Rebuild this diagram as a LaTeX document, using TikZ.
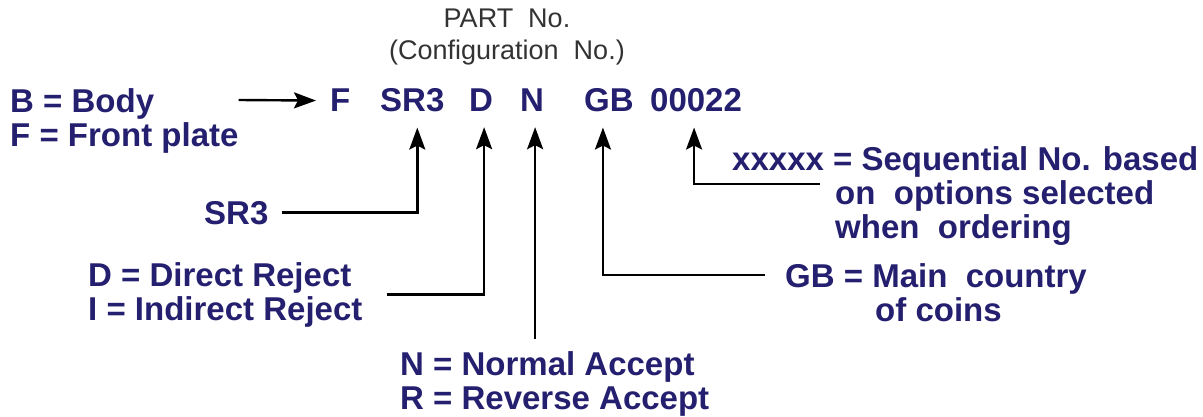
\documentclass[tikz,border=0pt]{standalone}
\usepackage{fontspec}
\setmainfont{Liberation Sans}
\usepackage{tikz}
\usetikzlibrary{arrows.meta,positioning,calc}
\usepackage{xcolor}
\definecolor{codenavy}{HTML}{241F6E}
\definecolor{headgrey}{HTML}{333333}

\begin{document}
\begin{tikzpicture}[x=1pt,y=-1pt,>={Stealth[length=22pt,width=16pt,inset=4pt]}]
  \tikzset{
    code/.style={inner sep=0pt,text=codenavy,font=\fontsize{33}{34}\selectfont\bfseries},
    key/.style={code,align=left,anchor=north west},
    conn/.style={line width=2.4pt,black},
  }
  \useasboundingbox (0,0) rectangle (1203,417);
  % heading
  \node[inner sep=0pt,text=headgrey,font=\fontsize{27}{32}\selectfont,align=center] (head) at (507,37) {PART\ \ No.\\(Configuration\ \ No.)};
  % the part number itself
  \node[code,anchor=base west] (f) at (330,112) {F};
  \node[code,anchor=base west] (sr3) at (380,112) {SR3};
  \node[code,anchor=base west] (d) at (469,112) {D};
  \node[code,anchor=base west] (n) at (520,112) {N};
  \node[code,anchor=base west] (gb) at (584,112) {GB};
  \node[code,anchor=base west] (seq) at (650,112) {00022};
  % arrow tips under each field
  \coordinate (sr3tip) at ([xshift=5pt,yshift=-15pt]sr3.south);
  \coordinate (dtip) at ([xshift=3pt,yshift=-15pt]d.south);
  \coordinate (ntip) at ([xshift=3pt,yshift=-15pt]n.south);
  \coordinate (gbtip) at ([xshift=-6pt,yshift=-15pt]gb.south);
  \coordinate (seqtip) at ([xshift=-2pt,yshift=-15pt]seq.south);
  % keys
  \node[key] (body) at (10,88) {B = Body\\F = Front plate};
  \node[code,anchor=base west] (sr3lbl) at (204,224) {SR3};
  \node[key] (dlbl) at (88,262) {D = Direct Reject\\I = Indirect Reject};
  \node[key] (nlbl) at (400,351) {N = Normal Accept\\R = Reverse Accept};
  \node[key] (gblbl) at (785,263) {GB = Main\ \ country\\\hspace*{90pt}of coins};
  \node[key] (seqlbl) at (732,146) {xxxxx = Sequential No. based\\\hspace*{103pt}on\ \ options selected\\\hspace*{103pt}when\ \ ordering};
  \coordinate (bodyend) at ($(body.north east)+(0,12)$);
  \coordinate (gbend) at ($(gblbl.north west)+(-20,12)$);
  \coordinate (seqend) at ($(seqlbl.north west)+(88,38)$);
  % connectors
  \draw[conn,->,shorten >=14pt] (bodyend) -- (f.west);
  \draw[conn,->,shorten <=13pt] (sr3lbl) -| (sr3tip);
  \draw[conn,->,shorten <=24pt] (dlbl) -| (dtip);
  \draw[conn,->,shorten <=12pt] (nlbl.north -| ntip) -- (ntip);
  \draw[conn,->] (gbend) -| (gbtip);
  \draw[conn,->] (seqend) -| (seqtip);
\end{tikzpicture}
\end{document}
